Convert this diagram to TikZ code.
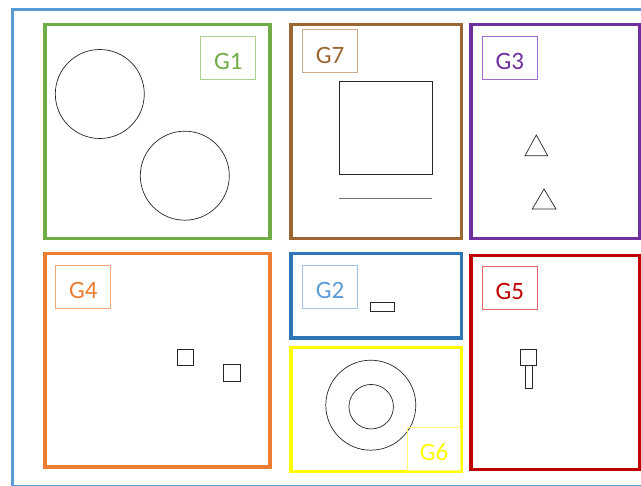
\documentclass[tikz,border=0pt]{standalone}
\usepackage{fontspec}
\setmainfont{Carlito}
\usetikzlibrary{calc}
\definecolor{frameblue}{HTML}{5B9BD5}
\definecolor{cgreen}{HTML}{70AD47}\definecolor{lgreen}{HTML}{A9D18E}
\definecolor{cbrown}{HTML}{9C6632}\definecolor{lbrown}{HTML}{CFAA88}
\definecolor{cpurple}{HTML}{7030A0}\definecolor{lpurple}{HTML}{9E6BCB}
\definecolor{corange}{HTML}{ED7D31}\definecolor{lorange}{HTML}{F4A675}
\definecolor{cblue}{HTML}{2E75B6}\definecolor{lblue}{HTML}{5B9BD5}\definecolor{lbluebd}{HTML}{9DC3E6}
\definecolor{cyellow}{HTML}{FFFF00}\definecolor{lyellow}{HTML}{FFFF70}
\definecolor{cred}{HTML}{C00000}\definecolor{lred}{HTML}{E06666}
\tikzset{
  grp/.style={line width=3.6pt},
  lblbox/.style={draw, line width=0.8pt, minimum width=55pt, minimum height=43pt, inner sep=0pt},
  lbltext/.style={anchor=base, font=\fontsize{25}{25}\selectfont, inner sep=0pt},
  shp/.style={draw=black!85, line width=0.7pt},
}
\begin{document}
\begin{tikzpicture}[x=1pt,y=-1pt]
\useasboundingbox (0,0) rectangle (641,486);
\clip (0,0) rectangle (641,486);
% outer frame
\draw[line width=3pt, draw=frameblue] (12.5,9.5) rectangle (700,486.5);
% G1
\draw[grp, draw=cgreen] (45,24.5) rectangle (270,238.5);
\node[lblbox, draw=lgreen] (g1box) at (228.3,57.7) {};
\node[lbltext, text=cgreen] (g1) at ($(g1box.south)+(0,-10)$) {G1};
\node[shp, circle, minimum size=89pt, inner sep=0pt] (c1) at (99.8,94) {};
\node[shp, circle, minimum size=89pt, inner sep=0pt] (c2) at (184.8,175.7) {};
% G7
\draw[grp, draw=cbrown] (291,24.5) rectangle (461.5,238.5);
\node[lblbox, draw=lbrown] (g7box) at (330,51.2) {};
\node[lbltext, text=cbrown] (g7) at ($(g7box.south)+(0,-10)$) {G7};
\draw[shp] (339.3,81.7) rectangle (432.7,174.7);
\draw[draw=black!55, line width=0.7pt] (339.3,198.3) -- (432,198.3);
% G3
\draw[grp, draw=cpurple] (471,24.5) rectangle (639.5,238.5);
\node[lblbox, draw=lpurple] (g3box) at (509.8,57.7) {};
\node[lbltext, text=cpurple] (g3) at ($(g3box.south)+(0,-10.5)$) {G3};
\draw[shp] (525,155.7) -- (536.3,135) -- (547.7,155.7) -- cycle;
\draw[shp] (532.3,209) -- (544,189) -- (556,209) -- cycle;
% G4
\draw[grp, draw=corange] (45,253.5) rectangle (270,467);
\node[lblbox, draw=lorange] (g4box) at (83.3,286.7) {};
\node[lbltext, text=corange] (g4) at ($(g4box.south)+(0,-10)$) {G4};
\draw[shp] (177,349) rectangle (193.7,365);
\draw[shp] (223,364) rectangle (240,381);
% G2
\draw[grp, draw=cblue] (291,253.5) rectangle (461.5,338);
\node[lblbox, draw=lbluebd] (g2box) at (330,286.7) {};
\node[lbltext, text=lblue] (g2) at ($(g2box.south)+(0,-10)$) {G2};
\draw[shp] (370,302.7) rectangle (394.3,311);
% G6
\draw[grp, draw=cyellow] (291,347.5) rectangle (461.5,471.5);
\node[shp, circle, minimum size=90pt, inner sep=0pt] (c3) at (370.8,405.2) {};
\node[shp, circle, minimum size=44.5pt, inner sep=0pt] (c4) at (371.2,406.7) {};
\node[lblbox, draw=lyellow, minimum width=52.6pt, minimum height=42.3pt] (g6box) at (434,448.8) {};
\node[lbltext, text=cyellow] (g6) at ($(g6box.south)+(0,-10)$) {G6};
% G5
\draw[grp, draw=cred] (471,255.5) rectangle (639.5,469.5);
\node[lblbox, draw=lred] (g5box) at (509.8,287.7) {};
\node[lbltext, text=cred] (g5) at ($(g5box.south)+(0,-10.5)$) {G5};
\draw[shp] (520.7,349.3) rectangle (536.7,365);
\draw[shp] (525,365) rectangle (532.3,388.7);
\end{tikzpicture}
\end{document}
